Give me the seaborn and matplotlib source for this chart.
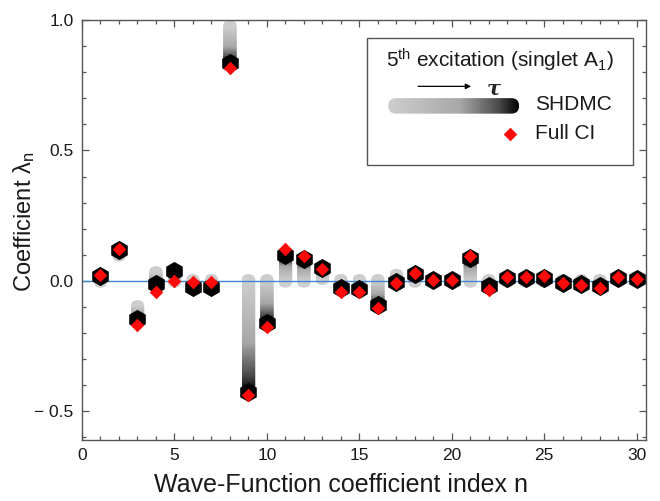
import numpy as np
import pandas as pd
import matplotlib
matplotlib.use("Agg")
import matplotlib.pyplot as plt
import seaborn as sns
from matplotlib.patches import FancyBboxPatch, Rectangle
from matplotlib.colors import LinearSegmentedColormap

# ---------------- data ----------------
n_index = list(range(1, 31))
# SHDMC coefficient at the start of the projection (small tau) and at the end (large tau)
shdmc_start = [0.00, 0.10, -0.10, 0.03, 0.00, 0.00, 0.00, 0.975, 0.00, 0.00,
               0.00, 0.00, 0.01, 0.00, 0.00, 0.00, 0.02, 0.00, 0.00, 0.00,
               0.00, 0.00, 0.00, 0.00, 0.00, 0.00, 0.00, 0.00, 0.01, 0.01]
shdmc_end = [0.020, 0.120, -0.148, -0.013, 0.038, -0.022, -0.022, 0.835, -0.425, -0.160,
             0.100, 0.083, 0.050, -0.028, -0.030, -0.093, -0.003, 0.025, 0.003, 0.003,
             0.088, -0.020, 0.010, 0.010, 0.012, -0.010, -0.012, -0.020, 0.012, 0.008]
full_ci = [0.022, 0.123, -0.169, -0.042, 0.000, -0.004, -0.004, 0.817, -0.439, -0.177,
           0.124, 0.094, 0.045, -0.044, -0.044, -0.105, -0.009, 0.030, 0.004, 0.004,
           0.094, -0.036, 0.013, 0.013, 0.019, -0.010, -0.017, -0.026, 0.013, 0.006]

x_ticks = [0, 5, 10, 15, 20, 25, 30]
y_ticks = [-0.5, 0.0, 0.5, 1.0]
y_tick_labels = ["\u2212 0.5", "0.0", "0.5", "1.0"]

df_end = pd.DataFrame({"n": n_index, "value": shdmc_end})
df_ci = pd.DataFrame({"n": n_index, "value": full_ci})

# ---------------- style ----------------
sns.set_theme(style="ticks")
plt.rcParams["font.family"] = ["Liberation Sans", "DejaVu Sans"]
plt.rcParams["mathtext.fontset"] = "custom"
plt.rcParams["mathtext.rm"] = "Liberation Sans"
plt.rcParams["mathtext.it"] = "Liberation Sans:italic"
plt.rcParams["mathtext.bf"] = "Liberation Sans:bold"

W, H = 660, 501
fig = plt.figure(figsize=(W / 100, H / 100), dpi=100)
ax_l, ax_r, ax_t, ax_b = 82, 646, 20, 440
ax = fig.add_axes([ax_l / W, 1 - ax_b / H, (ax_r - ax_l) / W, (ax_b - ax_t) / H])

XLIM = (0, 30.5)
YLIM = (-0.61, 1.0)
ax.set_xlim(*XLIM)
ax.set_ylim(*YLIM)

px_x = (ax_r - ax_l) / (XLIM[1] - XLIM[0])
px_y = (ax_b - ax_t) / (YLIM[1] - YLIM[0])
asp = px_x / px_y

cmap = LinearSegmentedColormap.from_list(
    "tau", [(0.0, "#cecece"), (0.55, "#a8a8a8"), (0.85, "#4a4a4a"), (1.0, "#000000")])

ax.axhline(0, color="#3d86d6", lw=1.0, zorder=2.5)

# SHDMC trajectories as gradient capsules
half_w = 0.37
r_y = half_w * asp
for n, s, e in zip(n_index, shdmc_start, shdmc_end):
    lo = min(s, e) - r_y
    hi = max(s, e) + r_y
    yy = np.linspace(lo, hi, 300)
    if abs(e - s) < 1e-9:
        p = np.ones_like(yy)
    else:
        p = np.clip((yy - s) / (e - s), 0, 1)
    img = cmap(p)[:, None, :]
    im = ax.imshow(img, extent=[n - half_w, n + half_w, lo, hi], origin="lower",
                   aspect="auto", interpolation="bilinear", zorder=2)
    clip = FancyBboxPatch((n - half_w, lo), 2 * half_w, hi - lo,
                          boxstyle=f"round,pad=0,rounding_size={half_w}",
                          mutation_aspect=asp, transform=ax.transData)
    im.set_clip_path(clip)

sns.scatterplot(data=df_end, x="n", y="value", marker="h", s=190, color="black",
                edgecolor="black", linewidth=0, ax=ax, zorder=3, legend=False)
sns.scatterplot(data=df_ci, x="n", y="value", marker="D", s=48, color="#ff0a0a",
                edgecolor="#ff0a0a", linewidth=0, ax=ax, zorder=4, legend=False)

ax.set_xlim(*XLIM)
ax.set_ylim(*YLIM)

# ---------------- axes styling ----------------
ax.set_xticks(x_ticks)
ax.set_xticks(range(0, 31), minor=True)
ax.set_yticks(y_ticks)
ax.set_yticklabels(y_tick_labels)
ax.set_yticks(np.arange(-0.6, 1.001, 0.1), minor=True)
for sp in ax.spines.values():
    sp.set_visible(True)
    sp.set_color("#555555")
    sp.set_linewidth(1.0)
ax.tick_params(which="both", direction="in", top=True, right=True, color="#555555",
               labelsize=12.5, labelcolor="#1a1a1a", width=0.9)
ax.tick_params(which="major", length=5, pad=6)
ax.tick_params(which="minor", length=3)

ax.set_xlabel("Wave-Function coefficient index n", fontsize=18, color="#1a1a1a")
ax.xaxis.set_label_coords(0.459, -0.107)
ax.set_ylabel(r"Coefficient λ$_\mathregular{n}$", fontsize=17, color="#1a1a1a")
ax.yaxis.set_label_coords(-0.103, 0.52)
ax.yaxis.label.set_va("center")
ax.xaxis.label.set_va("center")

# ---------------- legend (drawn by hand) ----------------
box = Rectangle((0.505, 0.655), 0.472, 0.302, transform=ax.transAxes,
                facecolor="white", edgecolor="#555555", lw=1.0, zorder=5)
ax.add_patch(box)
ax.text(0.741, 0.905, r"5$^\mathregular{th}$ excitation (singlet A$_\mathregular{1}$)",
        transform=ax.transAxes, ha="center", va="center", fontsize=15, color="#1a1a1a", zorder=6)
ax.annotate("", xy=(0.690, 0.842), xytext=(0.596, 0.842), xycoords="axes fraction",
            arrowprops=dict(arrowstyle="-|>", color="black", lw=0.9, mutation_scale=8,
                            shrinkA=0, shrinkB=0), zorder=6)

bar = ax.inset_axes([0.543, 0.777, 0.232, 0.037], zorder=6)
bar.set_xlim(0, 1)
bar.set_ylim(0, 1)
bar.axis("off")
grad = cmap(np.linspace(0, 1, 300))[None, :, :]
bim = bar.imshow(grad, extent=[0, 1, 0, 1], aspect="auto", interpolation="bilinear")
bw_px = 0.232 * (ax_r - ax_l)
bh_px = 0.037 * (ax_b - ax_t)
rs = (bh_px / 2) / bw_px
bclip = FancyBboxPatch((0, 0), 1, 1, boxstyle=f"round,pad=0,rounding_size={rs}",
                       mutation_aspect=bw_px / bh_px, transform=bar.transData)
bim.set_clip_path(bclip)

ax.text(0.730, 0.823, "τ", transform=ax.transAxes, ha="center", va="baseline",
        fontsize=15, fontweight="bold", fontstyle="italic",
        family=["DejaVu Serif"], zorder=8)

ax.text(0.803, 0.800, "SHDMC", transform=ax.transAxes, ha="left", va="center",
        fontsize=15, color="#1a1a1a", zorder=6)
ax.scatter([0.759], [0.729], marker="D", s=48, color="#ff0a0a", linewidth=0,
           transform=ax.transAxes, zorder=6)
ax.text(0.803, 0.729, "Full CI", transform=ax.transAxes, ha="left", va="center",
        fontsize=15, color="#1a1a1a", zorder=6)

fig.savefig("out.png", dpi=100)
